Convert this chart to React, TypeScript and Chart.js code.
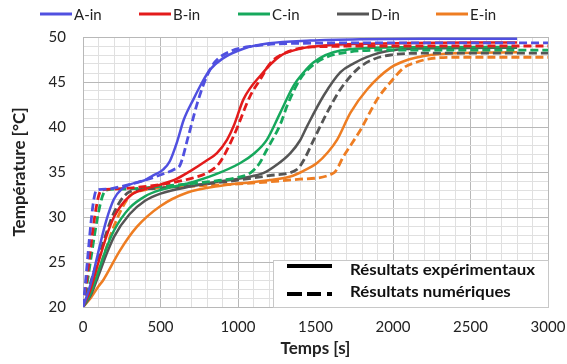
import React, { useEffect, useRef } from "react";
import { Chart, registerables } from "chart.js";

Chart.register(...registerables);

const FONT = "Lato, 'Open Sans', sans-serif";

const seriesNames = ["A-in", "B-in", "C-in", "D-in", "E-in"];
const seriesColors = ["#5050E0", "#E31B1B", "#16A85C", "#555555", "#EE7D22"];

const xTicks = [0, 500, 1000, 1500, 2000, 2500, 3000];
const yTicks = [20, 25, 30, 35, 40, 45, 50];

// Experimental (solid) — [time s, temperature °C]
const aExp = [[0,20],[50,22.6],[100,26.2],[150,29.6],[200,32],[250,33.1],[300,33.6],[400,34.1],[450,34.6],[519,35.3],[560,36.2],[606,38.3],[650,40.8],[713,43.1],[770,45],[821,46.4],[900,47.6],[1035,48.7],[1200,49.3],[1467,49.6],[1800,49.75],[2200,49.8],[2800,49.8]];
const bExp = [[0,20],[50,22],[100,25],[150,27.8],[200,30],[300,32.3],[400,33.1],[500,33.6],[600,34.2],[692,35.1],[800,36.3],[864,37.1],[930,38.6],[972,40.1],[1036,43.1],[1144,45.7],[1273,47.9],[1400,48.7],[1553,49.05],[2000,49.3],[2800,49.4]];
const cExp = [[0,20],[50,21.5],[100,24],[150,26.5],[200,28.5],[300,31],[400,32.3],[500,33],[692,33.8],[850,34.7],[1015,36],[1100,37],[1187,38.6],[1273,41.6],[1359,44.6],[1420,46],[1488,47.2],[1661,48.5],[2000,48.85],[2800,48.9]];
const dExp = [[0,20],[50,21.3],[100,23.5],[150,25.8],[200,27.8],[300,30.3],[400,31.8],[500,32.6],[700,33.4],[900,34],[1050,34.4],[1166,34.9],[1250,35.8],[1338,37.1],[1400,38.5],[1446,40.1],[1553,43.5],[1661,46.1],[1750,47.1],[1834,47.8],[1985,48.5],[2300,48.75],[2800,48.8]];
const eExp = [[0,20],[50,21],[100,22.3],[131,23],[239,26.3],[347,28.9],[498,31.2],[670,32.7],[900,33.5],[1100,33.9],[1338,34.5],[1420,35.1],[1510,36],[1580,37.2],[1640,38.6],[1726,41.6],[1834,44.2],[1985,46.6],[2100,47.5],[2200,47.9],[2400,48.2],[2800,48.3]];

// Numerical (dashed)
const aNum = [[0,20],[88,33],[150,33.1],[250,33.4],[400,34.1],[520,34.8],[590,35.3],[627,35.8],[680,39],[740,42.8],[800,45.7],[850,47.2],[950,48.4],[1100,49],[1400,49.3],[2000,49.35],[3000,49.35]];
const bNum = [[0,20],[120,33],[200,33.1],[350,33.3],[500,33.6],[700,34.3],[800,34.9],[880,36],[972,39],[1080,43.5],[1144,45.3],[1209,47.1],[1300,48.2],[1480,48.9],[2000,49],[3000,49]];
const cNum = [[0,20],[150,33],[250,33.1],[500,33.4],[800,33.9],[1000,34.4],[1080,34.9],[1140,36],[1187,37.5],[1273,40.3],[1320,42.5],[1400,45.3],[1446,46.3],[1550,47.6],[1700,48.3],[2000,48.55],[3000,48.55]];
const dNum = [[0,20],[100,25.5],[200,30.5],[300,32.8],[400,33.1],[700,33.5],[1000,34.1],[1200,34.6],[1381,35.3],[1430,36.5],[1489,38.6],[1575,41.6],[1661,44.2],[1769,46.4],[1870,47.5],[1985,48],[2200,48.2],[3000,48.2]];
const eNum = [[0,20],[100,24],[200,29],[300,32.3],[400,33],[692,33.4],[1123,33.8],[1400,34.2],[1618,34.9],[1683,36.8],[1791,39.7],[1899,43.1],[1985,45],[2071,46.6],[2150,47.2],[2243,47.6],[2400,47.75],[3000,47.75]];

const expSeries = [aExp, bExp, cExp, dExp, eExp];
const numSeries = [aNum, bNum, cNum, dNum, eNum];

const legendExp = "Résultats expérimentaux";
const legendNum = "Résultats numériques";

const topLegendPlugin = {
  id: "topLegend",
  afterDraw(chart: any) {
    const ctx = chart.ctx;
    ctx.save();
    ctx.font = `15px ${FONT}`;
    ctx.textBaseline = "middle";
    ctx.textAlign = "left";
    seriesNames.forEach((name, i) => {
      const x0 = 40 + i * 99;
      const y = 14;
      ctx.strokeStyle = seriesColors[i];
      ctx.lineWidth = 3;
      ctx.setLineDash([]);
      ctx.beginPath();
      ctx.moveTo(x0, y);
      ctx.lineTo(x0 + 32, y);
      ctx.stroke();
      ctx.fillStyle = "#222";
      ctx.fillText(name, x0 + 34, y + 1);
    });
    ctx.restore();
  },
};

const boxLegendPlugin = {
  id: "boxLegend",
  afterDatasetsDraw(chart: any) {
    const { ctx, chartArea, scales } = chart;
    const left = Math.round(scales.x.getPixelForValue(1226));
    const top = Math.round(scales.y.getPixelForValue(25.2));
    const right = chartArea.right;
    const bottom = chartArea.bottom;
    ctx.save();
    ctx.fillStyle = "#ffffff";
    ctx.fillRect(left, top, right - left, bottom - top);
    ctx.strokeStyle = "#c8c8c8";
    ctx.lineWidth = 1;
    ctx.strokeRect(left + 0.5, top + 0.5, right - left, bottom - top);
    ctx.strokeStyle = "#000";
    ctx.lineWidth = 4;
    ctx.lineCap = "butt";
    const sx = left + 14;
    const y1 = top + 6;
    ctx.beginPath();
    ctx.moveTo(sx, y1);
    ctx.lineTo(sx + 45, y1);
    ctx.stroke();
    const y2 = top + 34;
    [[0, 15], [20, 34], [40, 45]].forEach(([a, b]) => {
      ctx.beginPath();
      ctx.moveTo(sx + a, y2);
      ctx.lineTo(sx + b, y2);
      ctx.stroke();
    });
    ctx.fillStyle = "#111";
    ctx.font = `bold 15px ${FONT}`;
    ctx.textBaseline = "middle";
    ctx.textAlign = "left";
    const w = ctx.measureText(legendExp).width;
    const sc = 185 / w;
    const tx = left + 77;
    ctx.translate(tx, 0);
    ctx.scale(sc, 1);
    ctx.fillText(legendExp, 0, top + 10);
    ctx.fillText(legendNum, 0, top + 32);
    ctx.restore();
  },
};

export default function App() {
  const ref = useRef<HTMLCanvasElement | null>(null);
  useEffect(() => {
    if (!ref.current) return;
    const datasets: any[] = [];
    seriesNames.forEach((name, i) => {
      datasets.push({
        label: name,
        data: expSeries[i].map(([x, y]) => ({ x, y })),
        borderColor: seriesColors[i],
        backgroundColor: seriesColors[i],
        borderWidth: 2.5,
        pointRadius: 0,
        fill: false,
        cubicInterpolationMode: "monotone",
      });
      datasets.push({
        label: name + " num",
        data: numSeries[i].map(([x, y]) => ({ x, y })),
        borderColor: seriesColors[i],
        backgroundColor: seriesColors[i],
        borderWidth: 2.8,
        borderDash: [8, 4],
        pointRadius: 0,
        fill: false,
        cubicInterpolationMode: "monotone",
      });
    });
    const chart = new Chart(ref.current, {
      type: "line",
      data: { datasets },
      plugins: [topLegendPlugin, boxLegendPlugin],
      options: {
        animation: false,
        responsive: false,
        layout: { padding: { top: 37, right: 19, left: 0, bottom: 0 } },
        plugins: { legend: { display: false }, tooltip: { enabled: false } },
        scales: {
          x: {
            type: "linear",
            min: 0,
            max: 3000,
            afterFit: (axis: any) => {
              axis.height = 57;
              axis.paddingRight = 0;
              axis.paddingLeft = 0;
            },
            ticks: {
              stepSize: 100,
              autoSkip: false,
              maxRotation: 0,
              padding: 11,
              color: "#222",
              font: { family: FONT, size: 15 },
              callback: (v: any) => (xTicks.includes(Number(v)) ? String(v) : ""),
            },
            grid: {
              drawTicks: false,
              color: (c: any) => (c.tick && xTicks.includes(c.tick.value) ? "#b8b8b8" : "#e0e0e0"),
            },
            border: { display: true, color: "#b8b8b8" },
            title: {
              display: true,
              text: "Temps [s]",
              color: "#222",
              font: { family: FONT, size: 17, weight: "bold" },
              padding: { top: 0, bottom: 5 },
            },
          },
          y: {
            min: 20,
            max: 50,
            afterFit: (axis: any) => { axis.width = 83; },
            ticks: {
              stepSize: 1,
              autoSkip: false,
              padding: 17,
              color: "#222",
              font: { family: FONT, size: 15 },
              callback: (v: any) => (yTicks.includes(Number(v)) ? String(v) : ""),
            },
            grid: {
              drawTicks: false,
              color: (c: any) => (c.tick && yTicks.includes(c.tick.value) ? "#b8b8b8" : "#e0e0e0"),
            },
            border: { display: true, color: "#b8b8b8" },
            title: {
              display: true,
              text: "Température [°C]",
              color: "#222",
              font: { family: FONT, size: 17, weight: "bold" },
              padding: { top: 9, bottom: 0 },
            },
          },
        },
      },
    });
    return () => chart.destroy();
  }, []);
  return (
    <div style={{ position: "fixed", left: 0, top: 0, width: 567, height: 364, background: "#fff" }}>
      <canvas ref={ref} width={567} height={364} />
    </div>
  );
}
